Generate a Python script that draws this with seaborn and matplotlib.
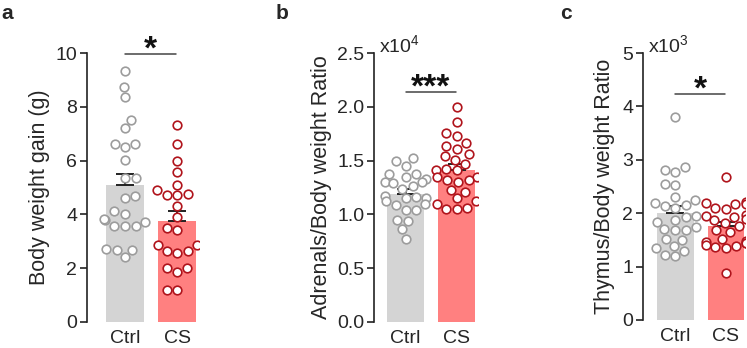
import pandas as pd
import numpy as np
import matplotlib.pyplot as plt
import seaborn as sns

groups = ["Ctrl", "CS"]

# body weight gain (g)
gain_ctrl = [9.33, 8.74, 8.36, 7.52, 7.22, 6.63, 6.60, 6.50, 6.01, 5.35, 5.35, 4.67, 4.60,
             4.11, 4.03, 3.78, 3.83, 3.72, 3.56, 3.58, 3.56, 2.73, 2.69, 2.69, 2.42]
gain_cs = [7.31, 6.63, 5.99, 5.56, 5.10, 4.92, 4.77, 4.71, 4.71, 4.31, 3.89, 3.51, 3.41,
           2.85, 2.85, 2.63, 2.64, 2.58, 2.01, 2.01, 1.86, 1.20, 1.20]

# adrenals / body weight ratio (x10^4)
adr_ctrl = [1.52, 1.50, 1.45, 1.38, 1.38, 1.35, 1.33, 1.30, 1.30, 1.29, 1.26, 1.24, 1.17,
            1.15, 1.16, 1.15, 1.12, 1.10, 1.09, 1.04, 1.04, 0.95, 0.94, 0.86, 0.77]
adr_cs = [2.00, 1.86, 1.76, 1.73, 1.66, 1.64, 1.61, 1.56, 1.54, 1.51, 1.47, 1.42, 1.41, 1.41,
          1.35, 1.35, 1.32, 1.32, 1.30, 1.23, 1.21, 1.15, 1.12, 1.10, 1.06, 1.05, 1.05]

# thymus / body weight ratio (x10^3)
thy_ctrl = [3.81, 2.87, 2.80, 2.78, 2.55, 2.53, 2.31, 2.25, 2.19, 2.15, 2.14, 2.10, 1.94, 1.92,
            1.88, 1.84, 1.74, 1.71, 1.69, 1.68, 1.52, 1.50, 1.38, 1.34, 1.30, 1.22, 1.19]
thy_cs = [2.67, 2.21, 2.20, 2.18, 2.17, 2.10, 2.07, 1.97, 1.94, 1.93, 1.90, 1.87, 1.82, 1.76,
          1.68, 1.65, 1.52, 1.48, 1.45, 1.46, 1.44, 1.40, 1.38, 1.36, 1.34, 0.88]

sns.set_style("ticks")
plt.rcParams["font.family"] = ["Liberation Sans", "DejaVu Sans"]
plt.rcParams["mathtext.fontset"] = "custom"
plt.rcParams["mathtext.rm"] = "Liberation Sans"

bar_colors = {"Ctrl": "#d4d4d4", "CS": "#ff8080"}
edge_colors = {"Ctrl": "#9c9c9c", "CS": "#b0141c"}

W, H = 747, 348
fig = plt.figure(figsize=(W / 100, H / 100), dpi=100)


def make_df(ctrl, cs):
    return pd.DataFrame({"group": ["Ctrl"] * len(ctrl) + ["CS"] * len(cs),
                         "value": list(ctrl) + list(cs)})


panels = [
    dict(df=make_df(gain_ctrl, gain_cs), x0=87, unit=52.5, xlim=(-0.72, 1.42), bottom=322,
         ylim=(0, 10), ticks=[0, 2, 4, 6, 8, 10], fmt="{:g}", ylabel="Body weight gain (g)",
         labelpad=4, letter="a", lx=1, sig="*", sig_y=9.95, power=None),
    dict(df=make_df(adr_ctrl, adr_cs), x0=374, unit=51, xlim=(-0.62, 1.42), bottom=322,
         ylim=(0, 2.5), ticks=[0, 0.5, 1.0, 1.5, 2.0, 2.5], fmt="{:.1f}",
         ylabel="Adrenals/Body weight Ratio", labelpad=3.5, letter="b", lx=276, sig="***",
         sig_y=2.135, power="4"),
    dict(df=make_df(thy_ctrl, thy_cs), x0=643, unit=50.5, xlim=(-0.64, 1.38), bottom=320,
         ylim=(0, 5), ticks=[0, 1, 2, 3, 4, 5], fmt="{:g}",
         ylabel="Thymus/Body weight Ratio", labelpad=5.5, letter="c", lx=560, sig="*",
         sig_y=4.23, power="3"),
]

top = 53
for p in panels:
    width_px = (p["xlim"][1] - p["xlim"][0]) * p["unit"]
    ax = fig.add_axes([p["x0"] / W, (H - p["bottom"]) / H, width_px / W, (p["bottom"] - top) / H])
    df = p["df"]

    sns.barplot(data=df, x="group", y="value", hue="group", order=groups, hue_order=groups,
                palette=bar_colors, saturation=1, errorbar=None, width=0.72, legend=False,
                ax=ax, linewidth=0, zorder=1)

    # mean + SEM, drawn upward only
    for i, g in enumerate(groups):
        vals = df.loc[df["group"] == g, "value"].to_numpy()
        m = vals.mean()
        sem = vals.std(ddof=1) / np.sqrt(len(vals))
        ax.errorbar(i, m, yerr=[[0], [sem]], color="#222222", capsize=6.5,
                    elinewidth=1.4, capthick=1.4, zorder=2)

    for g in groups:
        sns.swarmplot(data=df[df["group"] == g], x="group", y="value", order=groups,
                      color="white", edgecolor=edge_colors[g], linewidth=1.2, size=6.2,
                      ax=ax, zorder=3)

    ax.set_xlim(*p["xlim"])
    ax.set_ylim(*p["ylim"])
    ax.set_yticks(p["ticks"])
    ax.set_yticklabels([p["fmt"].format(t) for t in p["ticks"]], fontsize=14)
    ax.set_xticks([0, 1])
    ax.set_xticklabels(groups, fontsize=14)
    ax.tick_params(axis="x", length=0, pad=6)
    ax.tick_params(axis="y", length=5, width=1.2, color="#222222", pad=2)
    ax.set_xlabel("")
    ax.set_ylabel(p["ylabel"], fontsize=15.5, labelpad=p["labelpad"])
    for s in ["top", "right", "bottom"]:
        ax.spines[s].set_visible(False)
    ax.spines["left"].set_linewidth(1.2)
    ax.spines["left"].set_color("#222222")

    # significance
    ax.plot([0.0, 0.98], [p["sig_y"], p["sig_y"]], color="#444444", lw=1.1, clip_on=False)
    ax.annotate(p["sig"], (0.49, p["sig_y"]), xytext=(0, -3), textcoords="offset points",
                ha="center", va="baseline", fontsize=24, fontweight="bold", color="#111111",
                annotation_clip=False)

    if p["power"]:
        ax.text(0.05, 1.0, "x10$^{" + p["power"] + "}$", transform=ax.transAxes,
                ha="left", va="baseline", fontsize=14)

    fig.text(p["lx"] / W, 1 - 19 / H, p["letter"], fontsize=15, fontweight="bold",
             va="baseline", ha="left")

fig.savefig("out.png", dpi=100)
